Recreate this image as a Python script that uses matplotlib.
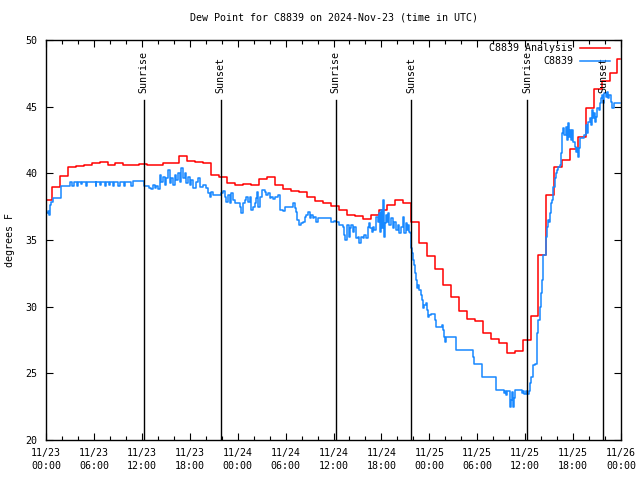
import numpy as np
import pandas as pd
import matplotlib
matplotlib.use('Agg')
import matplotlib.pyplot as plt
import matplotlib.dates as mdates

# start of the plot window (UTC)
start = pd.Timestamp('2024-11-23 00:00')
end = pd.Timestamp('2024-11-26 00:00')

# hourly analysis (step values), hours after start
red_hours = [-0.3, 0.7, 1.7, 2.7, 3.7, 4.7, 5.7, 6.7, 7.7, 8.7, 9.7, 10.7,
             11.7, 12.7, 13.7, 14.7, 15.7, 16.7, 17.7, 18.7, 19.7, 20.7, 21.7, 22.7,
             23.7, 24.7, 25.7, 26.7, 27.7, 28.7, 29.7, 30.7, 31.7, 32.7, 33.7, 34.7,
             35.7, 36.7, 37.7, 38.7, 39.7, 40.7, 41.7, 42.7, 43.7, 44.7, 45.7, 46.7,
             47.7, 48.7, 49.7, 50.7, 51.7, 52.7, 53.7, 54.7, 55.7, 56.7, 57.7, 58.7,
             59.7, 60.7, 61.6, 62.6, 63.6, 64.6, 65.6, 66.6, 67.6, 68.6, 69.6, 70.6,
             71.5, 71.85]
red_vals = [38.0, 38.95, 39.8, 40.45, 40.55, 40.6, 40.8, 40.85, 40.65, 40.75, 40.6, 40.65,
            40.7, 40.6, 40.65, 40.75, 40.8, 41.3, 40.9, 40.85, 40.8, 39.9, 39.7, 39.3,
            39.15, 39.2, 39.1, 39.55, 39.7, 39.1, 38.8, 38.7, 38.6, 38.2, 37.9, 37.75,
            37.55, 37.25, 36.9, 36.8, 36.55, 36.875, 37.25, 37.625, 38.0, 37.8, 36.35, 34.8,
            33.8, 32.8, 31.6, 30.7, 29.7, 29.1, 28.9, 28.05, 27.6, 27.25, 26.5, 26.7,
            27.5, 29.3, 33.9, 38.4, 40.45, 41.0, 41.8, 42.75, 44.9, 46.35, 46.9, 47.55,
            48.55, 48.55]

# station observations, hours after start
blue_hours = [0.08, 0.25, 0.38, 0.5, 0.67, 0.92, 1.83, 3.0, 3.3, 3.45, 3.9, 4.05,
              4.4, 4.5, 5.0, 5.1, 6.2, 6.3, 6.7, 6.85, 7.35, 7.5, 7.9, 8.0,
              8.4, 8.5, 9.0, 9.3, 9.8, 9.9, 10.6, 10.9, 12.25, 12.9,
              13.2, 13.42, 13.62, 13.83, 14.04, 14.25, 14.46, 14.67, 14.87, 15.08, 15.29, 15.5,
              15.71, 15.92, 16.12, 16.33, 16.54, 16.75, 16.96, 17.17, 17.37, 17.58, 17.79, 18.0,
              18.21, 18.42, 18.83, 19.04, 19.25, 19.67, 20.08, 20.29, 20.5, 20.71, 20.92, 21.96,
              22.17, 22.37, 22.58, 22.79, 23.0, 23.21, 23.42, 23.62, 24.25, 24.46, 24.67, 24.87,
              25.08, 25.29, 25.5, 25.71, 25.92, 26.12, 26.33, 26.46, 26.54, 26.75, 27.04, 27.37,
              27.58, 27.79, 28.0, 28.21, 28.42, 28.62, 29.04, 29.25, 29.67, 29.87, 30.92, 31.12,
              31.33, 31.46, 31.67, 31.87, 32.17, 32.37, 32.58, 32.79, 33.0, 33.21, 33.42, 33.62,
              33.83, 34.04, 35.5, 35.71, 36.04, 36.33, 36.75, 37.17, 37.37, 37.5, 37.67, 37.92,
              38.08, 38.21, 38.42, 38.62, 38.83, 39.04, 39.25, 39.46, 39.67, 39.87, 40.08, 40.29,
              40.42, 40.58, 40.79, 40.92, 41.12, 41.33, 41.54, 41.67, 41.83, 41.96, 42.08, 42.17,
              42.29, 42.46, 42.58, 42.71, 42.83, 43.0, 43.21, 43.42, 43.62, 43.83, 44.04, 44.25,
              44.46, 44.67, 44.87, 45.08, 45.21, 45.38, 45.5, 45.62, 45.71, 45.79, 45.92, 46.04,
              46.21, 46.33, 46.46, 46.62, 46.75, 46.96, 47.08, 47.17, 47.38, 47.58, 47.71, 47.88,
              48.0, 48.21, 48.75, 48.83, 49.46, 49.58, 49.75, 49.88, 49.96, 50.08, 51.33, 53.42,
              53.5, 53.58, 54.58, 56.38, 57.38, 57.5, 57.58, 57.71, 58.12, 58.21, 58.29, 58.42,
              58.54, 58.71, 59.58, 59.75, 59.88, 60.08, 60.29, 60.5, 60.58, 60.75, 60.92, 61.25,
              61.42, 61.67, 61.83, 62.0, 62.17, 62.29, 62.58, 62.71, 62.88, 63.0, 63.12, 63.21,
              63.42, 63.54, 63.71, 63.83, 63.96, 64.12, 64.33, 64.46, 64.58, 64.67, 64.79, 64.92,
              65.08, 65.21, 65.33, 65.5, 65.62, 65.75, 65.92, 66.04, 66.25, 66.42, 66.54, 66.67,
              66.75, 66.88, 67.38, 67.58, 67.71, 67.88, 68.08, 68.21, 68.33, 68.5, 68.62, 68.75,
              68.92, 69.04, 69.25, 69.38, 69.5, 69.67, 69.79, 69.92, 70.08, 70.21, 70.38, 70.5,
              70.71, 70.92, 71.12, 71.83]
blue_vals = [37.0, 37.17, 36.88, 37.62, 37.87, 38.12, 39.07, 39.37, 39.07, 39.37, 39.07, 39.37,
             39.2, 39.37, 39.07, 39.37, 39.07, 39.37, 39.1, 39.37, 39.07, 39.37, 39.1, 39.37,
             39.07, 39.37, 39.07, 39.37, 39.07, 39.37, 39.07, 39.45, 39.07, 38.87,
             38.8, 39.12, 38.87, 39.05, 38.8, 39.87, 39.37, 39.75, 39.12, 39.62, 40.25, 39.25,
             39.62, 39.12, 39.87, 39.5, 40.0, 39.37, 40.37, 39.62, 40.0, 39.25, 39.75, 39.12,
             39.5, 38.87, 39.37, 39.62, 39.0, 39.12, 38.87, 38.5, 38.2, 38.62, 38.37, 38.5,
             38.7, 38.25, 37.87, 38.37, 37.75, 38.5, 38.0, 37.75, 37.5, 37.0, 37.75, 38.0,
             38.25, 37.87, 38.25, 37.25, 37.5, 37.75, 38.12, 38.62, 37.5, 38.25, 38.75, 38.57,
             38.37, 38.5, 38.12, 38.25, 38.07, 38.25, 38.37, 37.25, 37.17, 37.5, 37.75, 37.37,
             37.12, 36.5, 36.12, 36.25, 36.37, 36.75, 36.87, 37.12, 36.62, 36.87, 36.62, 36.75,
             36.37, 36.62, 36.62, 36.37, 36.42, 36.32, 36.12, 36.0, 35.37, 35.0, 36.12, 35.25,
             35.87, 36.12, 35.62, 36.0, 35.12, 35.25, 34.75, 35.25, 35.12, 35.37, 35.12, 36.0,
             36.25, 35.87, 35.62, 36.0, 35.75, 36.75, 36.37, 37.0, 35.62, 37.25, 35.87, 38.0,
             35.25, 36.25, 36.87, 36.37, 37.0, 36.12, 36.62, 35.87, 36.37, 35.75, 36.12, 35.5,
             36.0, 36.75, 35.5, 36.25, 35.75, 36.12, 35.62, 35.5, 34.37, 34.0, 33.5, 33.12,
             32.5, 32.0, 31.37, 31.62, 31.25, 30.87, 30.5, 29.87, 30.12, 30.25, 29.75, 29.25,
             29.37, 29.42, 29.0, 28.45, 28.5, 28.62, 28.25, 27.75, 27.37, 27.7, 26.75, 26.62,
             26.25, 25.7, 24.7, 23.75, 23.5, 23.7, 23.37, 23.7, 22.5, 23.0, 23.62, 22.5,
             23.12, 23.75, 23.5, 23.7, 23.45, 23.7, 23.45, 23.7, 24.25, 24.75, 25.62, 25.7,
             28.0, 29.0, 30.0, 31.0, 32.0, 33.87, 35.25, 36.0, 36.5, 36.37, 37.0, 37.75,
             38.0, 39.0, 39.62, 40.0, 40.25, 40.5, 40.62, 41.5, 42.5, 43.0, 43.37, 42.87,
             43.5, 42.5, 43.75, 42.75, 43.25, 42.5, 43.25, 42.37, 42.0, 41.62, 41.87, 41.25,
             41.87, 42.62, 42.87, 43.62, 43.0, 43.87, 44.12, 43.62, 44.75, 44.12, 44.5, 43.87,
             44.25, 44.87, 44.75, 45.25, 45.62, 45.87, 45.25, 46.0, 45.75, 46.12, 45.62, 45.87,
             45.37, 44.87, 45.25, 45.25]

sun_times = ['2024-11-23 12:15', '2024-11-23 21:52', '2024-11-24 12:16',
             '2024-11-24 21:46', '2024-11-25 12:17', '2024-11-25 21:46']
sun_labels = ['Sunrise', 'Sunset', 'Sunrise', 'Sunset', 'Sunrise', 'Sunset']

red_t = start + pd.to_timedelta(red_hours, unit='h')
blue_t = start + pd.to_timedelta(blue_hours, unit='h')

plt.rcParams['font.family'] = 'DejaVu Sans Mono'
plt.rcParams['font.size'] = 7.2

fig = plt.figure(figsize=(6.4, 4.8), dpi=100)
ax = fig.add_axes([0.0719, 0.0833, 0.8984, 0.8334])

ax.step(red_t, red_vals, where='post', color='#ff0000', lw=1.1, label='C8839 Analysis')
ax.step(blue_t, blue_vals, where='post', color='#1888ff', lw=1.1, label='C8839')

for t, lab in zip(sun_times, sun_labels):
    tt = pd.Timestamp(t)
    ax.axvline(tt, ymin=0, ymax=0.851, color='k', lw=1.0)
    ax.text(tt, 0.868, lab, transform=ax.get_xaxis_transform(), rotation=90,
            ha='center', va='bottom')

ax.set_xlim(start, end)
ax.set_ylim(20, 50)
ax.set_yticks([20, 25, 30, 35, 40, 45, 50])
ax.xaxis.set_major_locator(mdates.HourLocator(byhour=[0, 6, 12, 18]))
ax.xaxis.set_minor_locator(mdates.HourLocator(interval=2))
ax.xaxis.set_major_formatter(mdates.DateFormatter('%m/%d\n%H:%M'))
ax.tick_params(which='both', direction='in', top=True, right=True, width=0.8)
ax.tick_params(which='major', length=5)
ax.tick_params(which='minor', length=3)
ax.tick_params(axis='x', pad=6)
ax.tick_params(axis='y', pad=6)
for lbl in ax.get_xticklabels():
    lbl.set_linespacing(1.3)
for sp in ax.spines.values():
    sp.set_linewidth(1.0)

ax.set_title('Dew Point for C8839 on 2024-Nov-23 (time in UTC)', fontsize=7.2, pad=14)
ax.set_ylabel('degrees F', labelpad=8)
ax.legend(loc='upper right', bbox_to_anchor=(0.981, 0.992), frameon=False,
          markerfirst=False, borderaxespad=0, borderpad=0, handlelength=3.0,
          handletextpad=0.7, labelspacing=0.3)

fig.savefig('out.png', dpi=100)
